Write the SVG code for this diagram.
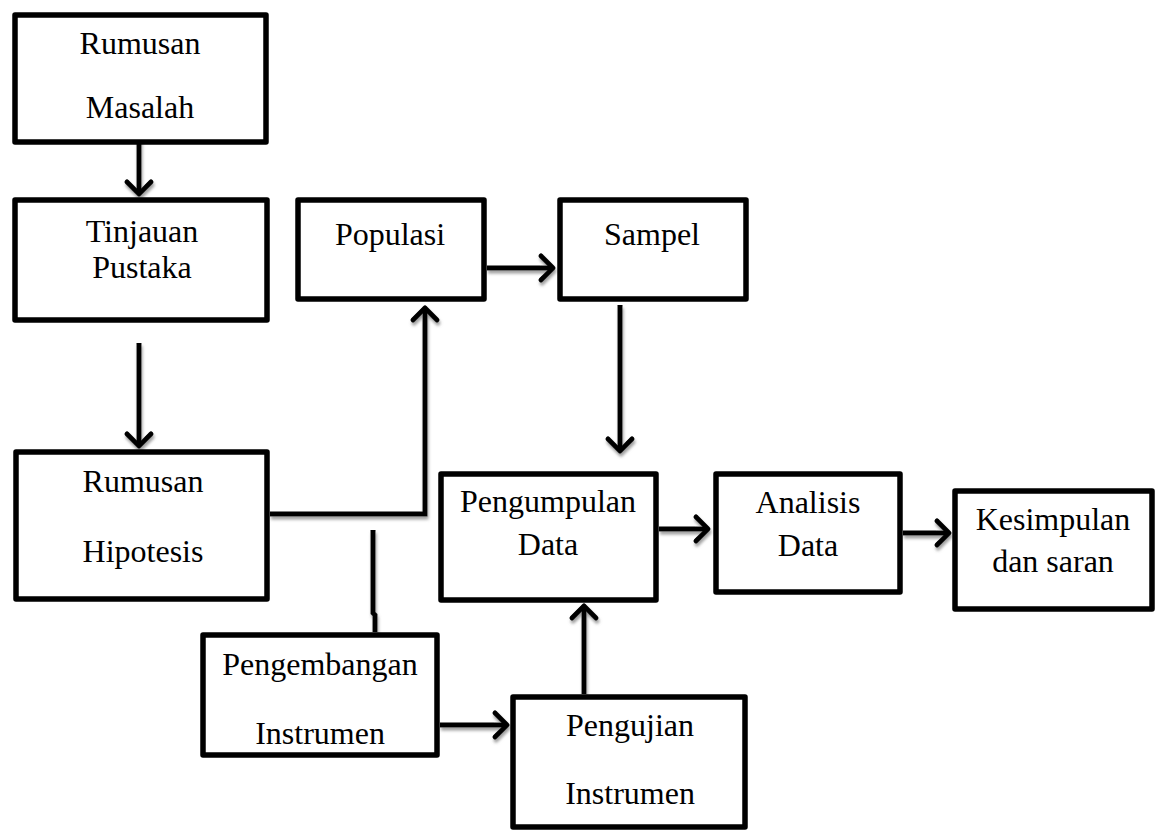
<svg xmlns="http://www.w3.org/2000/svg" width="1161" height="833" viewBox="0 0 1161 833">
<style>
.box{fill:#fff;stroke:#000;stroke-width:5.5;stroke-linejoin:round}
.lbl{font-family:"Liberation Serif","Times New Roman",serif;font-size:32px;fill:#000;text-anchor:middle}
.con{fill:none;stroke:#000;stroke-width:5;stroke-linejoin:miter}
</style>
<defs>
<marker id="ah" markerUnits="userSpaceOnUse" markerWidth="40" markerHeight="40" viewBox="-20 -20 40 40" refX="0" refY="0" orient="auto" overflow="visible">
<path d="M-12,-12 L0,0 L-12,12" fill="none" stroke="#000" stroke-width="5" stroke-linecap="round" stroke-linejoin="round"/>
</marker>
<filter id="sh" x="-20%" y="-20%" width="140%" height="140%">
<feDropShadow dx="1" dy="3" stdDeviation="1.5" flood-color="#888" flood-opacity="0.8"/>
</filter>
</defs>
<rect width="1161" height="833" fill="#fff"/>
<g id="connectors" filter="url(#sh)">
<path class="con" d="M139 132 V194" marker-end="url(#ah)"/>
<path class="con" d="M139 343 V446" marker-end="url(#ah)"/>
<path class="con" d="M270 514 H425 V308" marker-end="url(#ah)"/>
<path class="con" d="M487 268 H553" marker-end="url(#ah)"/>
<path class="con" d="M620 305 V451" marker-end="url(#ah)"/>
<path class="con" d="M373 530 V613 L375 615 V632"/>
<path class="con" d="M440 725 H507" marker-end="url(#ah)"/>
<path class="con" d="M584 694 V606" marker-end="url(#ah)"/>
<path class="con" d="M659 529 H708" marker-end="url(#ah)"/>
<path class="con" d="M903 533 H949" marker-end="url(#ah)"/>
</g>
<g id="rumusan-masalah"><rect class="box" x="15" y="15" width="251" height="127"/><text class="lbl" x="140" y="54">Rumusan</text><text class="lbl" x="140" y="118">Masalah</text></g>
<g id="tinjauan-pustaka"><rect class="box" x="15" y="200" width="252" height="120"/><text class="lbl" x="142" y="242">Tinjauan</text><text class="lbl" x="142" y="278">Pustaka</text></g>
<g id="rumusan-hipotesis"><rect class="box" x="16" y="452" width="251" height="147"/><text class="lbl" x="143" y="492">Rumusan</text><text class="lbl" x="143" y="562">Hipotesis</text></g>
<g id="populasi"><rect class="box" x="298" y="200" width="186" height="99"/><text class="lbl" x="390" y="245">Populasi</text></g>
<g id="sampel"><rect class="box" x="560" y="200" width="186" height="99"/><text class="lbl" x="652" y="245">Sampel</text></g>
<g id="pengumpulan-data"><rect class="box" x="441" y="474" width="215" height="126"/><text class="lbl" x="548" y="512">Pengumpulan</text><text class="lbl" x="548" y="555">Data</text></g>
<g id="analisis-data"><rect class="box" x="716" y="474" width="184" height="118"/><text class="lbl" x="808" y="513">Analisis</text><text class="lbl" x="808" y="556">Data</text></g>
<g id="kesimpulan"><rect class="box" x="955" y="491" width="197" height="118"/><text class="lbl" x="1053" y="530">Kesimpulan</text><text class="lbl" x="1053" y="572">dan saran</text></g>
<g id="pengembangan-instrumen"><rect class="box" x="203" y="635" width="234" height="120"/><text class="lbl" x="320" y="675">Pengembangan</text><text class="lbl" x="320" y="744">Instrumen</text></g>
<g id="pengujian-instrumen"><rect class="box" x="513" y="697" width="232" height="130"/><text class="lbl" x="630" y="736">Pengujian</text><text class="lbl" x="630" y="804">Instrumen</text></g>
</svg>
